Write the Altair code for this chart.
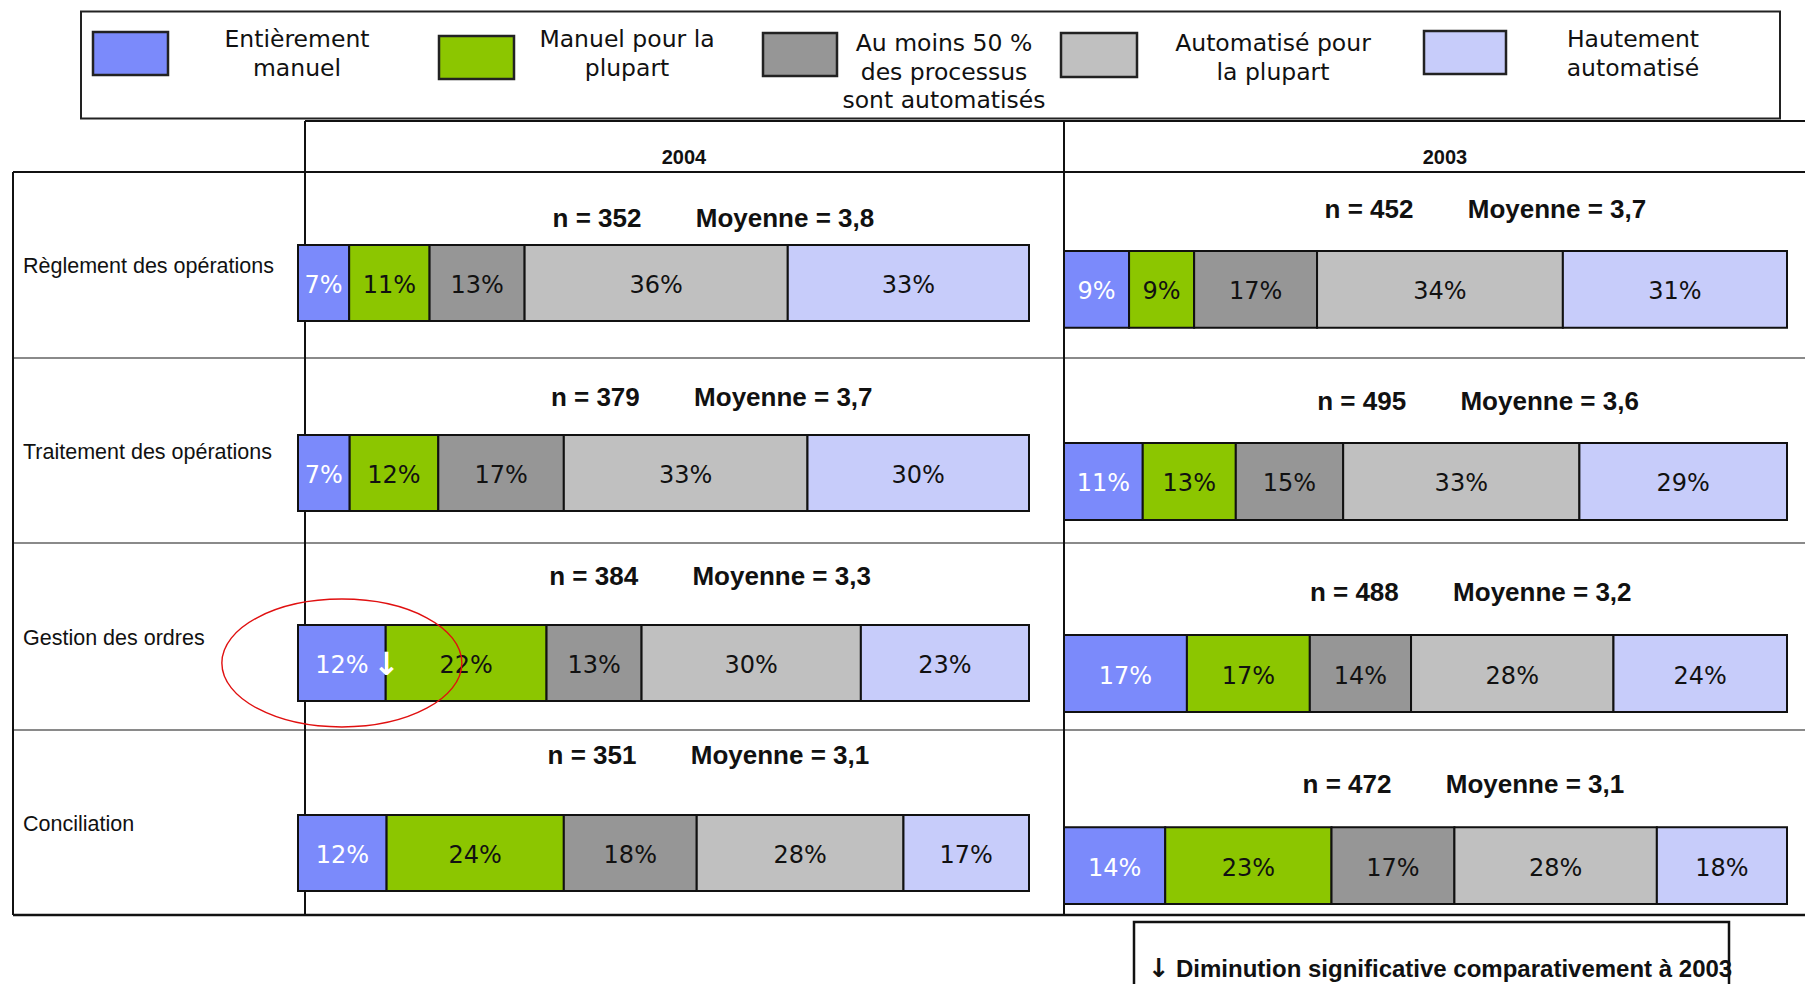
import altair as alt
import pandas as pd

# ---------------------------------------------------------------- data
ROWS = [
    "Règlement des opérations",
    "Traitement des opérations",
    "Gestion des ordres",
    "Conciliation",
]
LEVELS = [
    "Entièrement manuel",
    "Manuel pour la plupart",
    "Au moins 50 % des processus sont automatisés",
    "Automatisé pour la plupart",
    "Hautement automatisé",
]
LEGEND_LINES = [
    ["Entièrement", "manuel"],
    ["Manuel pour la", "plupart"],
    ["Au moins 50 %", "des processus", "sont automatisés"],
    ["Automatisé pour", "la plupart"],
    ["Hautement", "automatisé"],
]
YEARS = ["2004", "2003"]

PCT_2004 = [
    [7, 11, 13, 36, 33],
    [7, 12, 17, 33, 30],
    [12, 22, 13, 30, 23],
    [12, 24, 18, 28, 17],
]
PCT_2003 = [
    [9, 9, 17, 34, 31],
    [11, 13, 15, 33, 29],
    [17, 17, 14, 28, 24],
    [14, 23, 17, 28, 18],
]
N_2004 = [352, 379, 384, 351]
N_2003 = [452, 495, 488, 472]
MEAN_2004 = ["3,8", "3,7", "3,3", "3,1"]
MEAN_2003 = ["3,7", "3,6", "3,2", "3,1"]

# 2004 segments with a significant decrease compared to 2003
DECREASE_2004 = [("Gestion des ordres", "Entièrement manuel")]
ARROW = "↓"
FOOTNOTE = "Diminution significative comparativement à 2003"

# ---------------------------------------------------------------- style
COLORS = ["#7B8AFB", "#8CC600", "#969696", "#C0C0C0", "#C7CCFA"]
INK = ["#FFFFFF", "#111111", "#111111", "#111111", "#111111"]
VERDANA = "DejaVu Sans"
ARIAL = "Liberation Sans"
W, H = 1805, 984

# panel geometry (pixels)
PANELS = {
    "2004": dict(x=[298, 1029], bars=[245, 891], notes=[219, 756],
                 n_x=[597, 592], m_x=[785, 780]),
    "2003": dict(x=[1064, 1787], bars=[251, 904], notes=[210, 785],
                 n_x=[1369, 1347], m_x=[1557, 1535]),
}
HEADER_X = [684, 1445]
ROW_LABEL_Y = [267, 825]
SWATCHES = [(93, 32, 168, 75), (439, 36, 514, 79), (763, 33, 837, 76),
            (1061, 33, 1137, 77), (1424, 31, 1506, 74)]
LEGEND_TEXT = [(297, 28), (627, 28), (944, 32), (1273, 32), (1633, 28)]


def segments(year, table, flagged):
    recs = []
    for r, row in enumerate(ROWS):
        vals = table[r]
        total = float(sum(vals))
        cum = 0
        for k, lvl in enumerate(LEVELS):
            v = vals[k]
            recs.append(dict(
                year=year, row=row, level=lvl, pct=v,
                start=cum / total, end=(cum + v) / total,
                mid=(cum + v / 2) / total, label=f"{v}%", ink=INK[k],
                flag=(row, lvl) in flagged,
            ))
            cum += v
    return pd.DataFrame(recs)


def notes(year, ns, means):
    return pd.DataFrame({"year": year, "row": ROWS, "n": ns, "mean": means})


SEG = {"2004": segments("2004", PCT_2004, DECREASE_2004),
       "2003": segments("2003", PCT_2003, [])}
NOTES = {"2004": notes("2004", N_2004, MEAN_2004),
         "2003": notes("2003", N_2003, MEAN_2003)}

ONE = pd.DataFrame({"k": [0]})


def point_scale(domain, rng):
    return alt.Scale(type="point", domain=domain, range=rng, padding=0)


def rule(x0, y0, x1, y1, color="#111111", width=2.0):
    return alt.Chart(ONE).mark_rule(color=color, strokeWidth=width).encode(
        x=alt.value(x0), x2=alt.value(x1), y=alt.value(y0), y2=alt.value(y1))


def box(x0, y0, x1, y1, fill="white", fill_opacity=1.0, stroke="#222222", width=2.0):
    return alt.Chart(ONE).mark_rect(
        fill=fill, fillOpacity=fill_opacity, stroke=stroke, strokeWidth=width
    ).encode(x=alt.value(x0), x2=alt.value(x1), y=alt.value(y0), y2=alt.value(y1))


layers = []

# ---------------------------------------------------------------- legend
layers.append(box(81, 11.5, 1780, 118.5, fill_opacity=0, stroke="#222222", width=2))
for i, lvl in enumerate(LEVELS):
    x0, y0, x1, y1 = SWATCHES[i]
    layers.append(box(x0, y0, x1, y1, fill=COLORS[i], stroke="#222222", width=2.5))
    tx, ty = LEGEND_TEXT[i]
    layers.append(
        alt.Chart(ONE).mark_text(
            text="\n".join(LEGEND_LINES[i]), lineBreak="\n", lineHeight=28.5,
            font=VERDANA, fontSize=23.5, color="#111111",
            align="center", baseline="top",
        ).encode(x=alt.value(tx), y=alt.value(ty))
    )

# ---------------------------------------------------------------- table grid
layers += [
    rule(305, 121, W, 121),
    rule(13, 172, W, 172),
    rule(13, 358, W, 358, color="#8a8a8a", width=2),
    rule(13, 543, W, 543, color="#8a8a8a", width=2),
    rule(13, 730, W, 730, color="#8a8a8a", width=2),
    rule(13, 915, W, 915, width=2.5),
    rule(13, 172, 13, 915),
    rule(305, 121, 305, 915),
    rule(1064, 121, 1064, 915),
]

# year headers
layers.append(
    alt.Chart(pd.DataFrame({"year": YEARS})).mark_text(
        font=ARIAL, fontSize=20, fontWeight="bold", color="#111111", baseline="middle"
    ).encode(
        x=alt.X("year:N", scale=point_scale(YEARS, HEADER_X), axis=None),
        y=alt.value(158),
        text="year:N",
    )
)

# row labels
layers.append(
    alt.Chart(pd.DataFrame({"row": ROWS})).mark_text(
        font=ARIAL, fontSize=21.5, color="#111111", align="left", baseline="middle"
    ).encode(
        x=alt.value(23),
        y=alt.Y("row:N", scale=point_scale(ROWS, ROW_LABEL_Y), axis=None),
        text="row:N",
    )
)

# ---------------------------------------------------------------- bars
for year in YEARS:
    p = PANELS[year]
    df = SEG[year]
    xs = alt.Scale(domain=[0, 1], range=p["x"])
    ys = alt.Scale(type="band", domain=ROWS, range=p["bars"], paddingInner=0.6, paddingOuter=0)
    base = alt.Chart(df)
    layers.append(
        base.mark_bar(stroke="#111111", strokeWidth=2).encode(
            x=alt.X("start:Q", scale=xs, axis=None),
            x2="end:Q",
            y=alt.Y("row:N", scale=ys, axis=None),
            color=alt.Color("level:N", scale=alt.Scale(domain=LEVELS, range=COLORS), legend=None),
        )
    )
    layers.append(
        base.mark_text(font=VERDANA, fontSize=24, baseline="middle", align="center", dy=3).encode(
            x=alt.X("mid:Q", scale=xs, axis=None),
            y=alt.Y("row:N", scale=ys, axis=None),
            text="label:N",
            color=alt.Color("ink:N", scale=None),
        )
    )
    if df["flag"].any():
        flagged = base.transform_filter("datum.flag")
        layers.append(
            flagged.mark_text(text=ARROW, font=VERDANA, fontSize=32, fontWeight="bold",
                              color="#FFFFFF", baseline="middle", align="center",
                              dx=1, dy=2).encode(
                x=alt.X("end:Q", scale=xs, axis=None),
                y=alt.Y("row:N", scale=ys, axis=None),
            )
        )
        layers.append(
            flagged.mark_point(
                shape="M1,0C1,0.2944,0.5523,0.533,0,0.533C-0.5523,0.533,-1,0.2944,-1,0"
                      "C-1,-0.2944,-0.5523,-0.533,0,-0.533C0.5523,-0.533,1,-0.2944,1,0Z",
                size=57600, filled=False, color="#E01010", strokeWidth=1.4, opacity=1,
                dx=2, dy=5,
            ).encode(
                x=alt.X("mid:Q", scale=xs, axis=None),
                y=alt.Y("row:N", scale=ys, axis=None),
            )
        )

    # n / Moyenne above every bar
    nb = alt.Chart(NOTES[year])
    ny = alt.Y("row:N", scale=point_scale(ROWS, p["notes"]), axis=None)
    layers.append(
        nb.transform_calculate(t="'n = ' + datum.n").mark_text(
            font=ARIAL, fontSize=26, fontWeight="bold", color="#111111", baseline="middle"
        ).encode(
            x=alt.X("row:N", scale=point_scale(ROWS, p["n_x"]), axis=None),
            y=ny, text="t:N",
        )
    )
    layers.append(
        nb.transform_calculate(t="'Moyenne = ' + datum.mean").mark_text(
            font=ARIAL, fontSize=26, fontWeight="bold", color="#111111", baseline="middle"
        ).encode(
            x=alt.X("row:N", scale=point_scale(ROWS, p["m_x"]), axis=None),
            y=ny, text="t:N",
        )
    )

# ---------------------------------------------------------------- footnote
layers.append(box(1134, 922, 1729, 1000, fill_opacity=0, stroke="#111111", width=2.5))
layers.append(
    alt.Chart(ONE).mark_text(
        text=ARROW, font=VERDANA, fontSize=26, fontWeight="bold", color="#111111",
        align="center", baseline="middle",
    ).encode(x=alt.value(1159), y=alt.value(969))
)
layers.append(
    alt.Chart(ONE).mark_text(
        text=FOOTNOTE, font=ARIAL, fontSize=24, fontWeight="bold", color="#111111",
        align="left", baseline="middle",
    ).encode(x=alt.value(1176), y=alt.value(970))
)

chart = (
    alt.layer(*layers)
    .resolve_scale(x="independent", y="independent", color="independent")
    .properties(width=W, height=H, padding=0, background="white",
                autosize=alt.AutoSizeParams(type="none"))
    .configure_view(stroke=None)
)

chart.save("out.html", embed_options={"renderer": "svg", "actions": False})
